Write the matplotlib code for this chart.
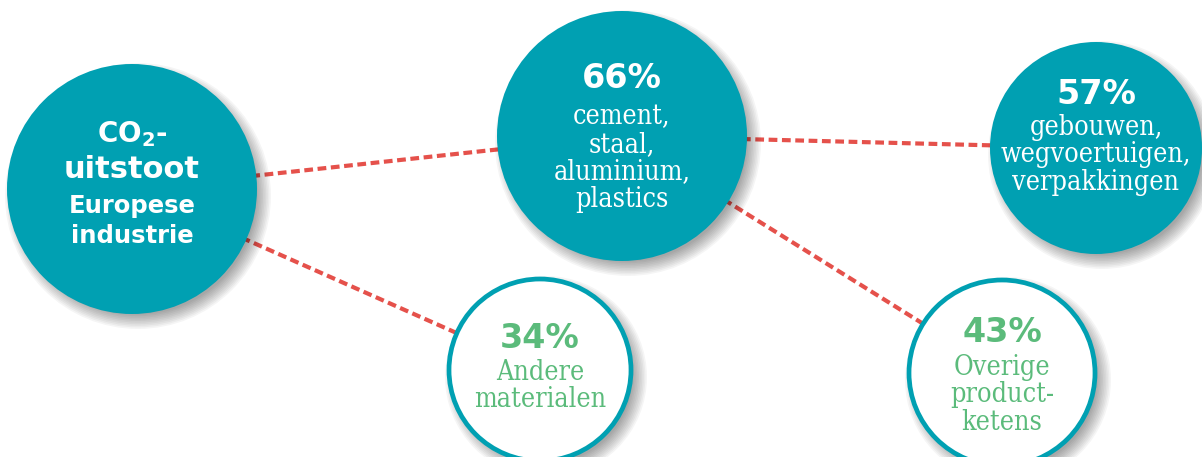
import matplotlib.pyplot as plt
from matplotlib.patches import Circle
import numpy as np

# percentages and labels of the five bubbles
shares = ["", "66%", "57%", "34%", "43%"]
captions = [
    "",
    "cement,\nstaal,\naluminium,\nplastics",
    "gebouwen,\nwegvoertuigen,\nverpakkingen",
    "Andere\nmaterialen",
    "Overige\nproduct-\nketens",
]
links = [(0, 1), (0, 3), (1, 2), (1, 4)]

# layout (pixels)
centers = [(132, 189), (622, 136), (1096, 148), (540, 370), (1002, 373)]
radii = [125, 125, 106, 93, 95]
filled = [True, True, True, False, False]

TEAL = "#00a0b2"
GREEN = "#5bbb7b"
RED = "#e5514b"

W, H = 1202, 457
fig = plt.figure(figsize=(W / 100, H / 100), dpi=100)
ax = fig.add_axes([0, 0, 1, 1])
ax.set_xlim(0, W)
ax.set_ylim(H, 0)
ax.set_aspect("equal")
ax.axis("off")

# dotted connectors, centre to centre, hidden under the bubbles
for a, b in links:
    (x0, y0), (x1, y1) = centers[a], centers[b]
    ax.plot([x0, x1], [y0, y1], color=RED, lw=3.0, ls=(0, (2.1, 1.1)),
            solid_capstyle="butt", zorder=1)

for i, ((cx, cy), r) in enumerate(zip(centers, radii)):
    # soft drop shadow
    for k in range(10):
        ax.add_patch(Circle((cx + 6, cy + 7), r + 8 - k * 1.6,
                            color="black", alpha=0.04, lw=0, zorder=2))
    if filled[i]:
        ax.add_patch(Circle((cx, cy), r, facecolor=TEAL, edgecolor="none", zorder=3))
    else:
        ax.add_patch(Circle((cx, cy), r - 2, facecolor="white", edgecolor=TEAL,
                            lw=3.4, zorder=3))

bold = dict(family=["DejaVu Sans"], weight="bold", ha="center", va="center", zorder=5)
reg = dict(family=["DejaVu Serif"], stretch="condensed", ha="center", va="center",
           linespacing=1.03, zorder=5)

# source bubble
plt.rcParams["mathtext.fontset"] = "dejavusans"
ax.text(132, 134, r"CO$_{\mathbf{2}}$-", color="white", fontsize=20, **bold)
ax.text(132, 170, "uitstoot", color="white", fontsize=22, **bold)
ax.text(132, 221, "Europese\nindustrie", color="white", fontsize=17.5,
        linespacing=1.3, **bold)

# share bubbles
share_y = [0, 79, 94, 338, 333]
cap_y = [0, 158, 155, 386, 395]
for i in range(1, 5):
    cx = centers[i][0]
    col = "white" if filled[i] else GREEN
    ax.text(cx, share_y[i], shares[i], color=col, fontsize=24, **bold)
    ax.text(cx, cap_y[i], captions[i], color=col, fontsize=19.3, **reg)

fig.savefig("out.png", dpi=100, facecolor="white")
